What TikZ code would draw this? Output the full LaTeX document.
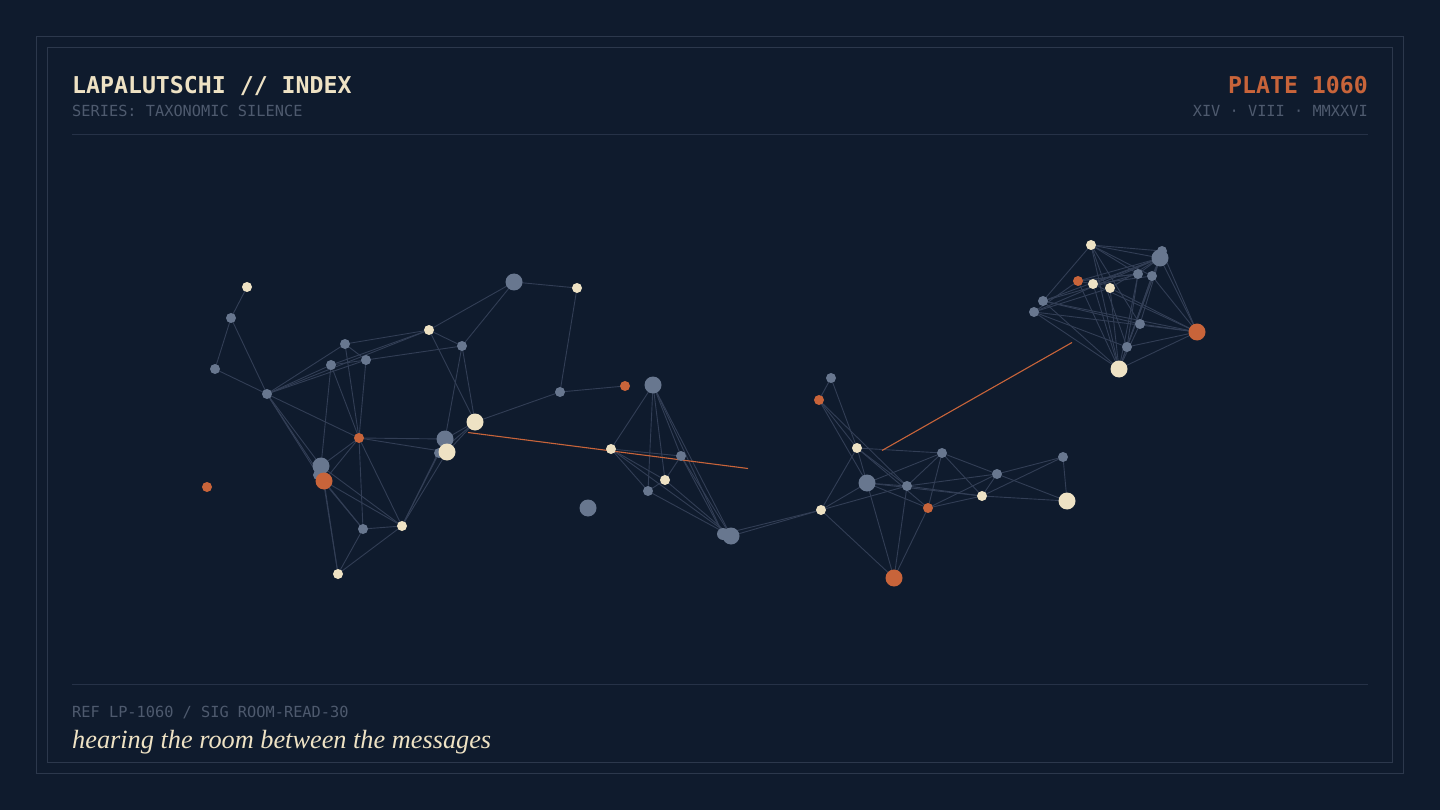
\documentclass[tikz,border=0pt]{standalone}
\usepackage{fontspec}
\setmonofont{DejaVu Sans Mono}
\newfontfamily\serifit{Liberation Serif}
\pgfdeclarelayer{back}
\pgfdeclarelayer{bg}
\pgfsetlayers{back,bg,main}
\definecolor{bgc}{HTML}{0F1B2D}
\definecolor{framec}{HTML}{2C384C}
\definecolor{rulec}{HTML}{263247}
\definecolor{edgec}{HTML}{323E55}
\definecolor{cream}{HTML}{EEE2C4}
\definecolor{slate}{HTML}{68778F}
\definecolor{rust}{HTML}{C8643A}
\definecolor{dim}{HTML}{4E5A6E}
\tikzset{
  dot/.style={circle, inner sep=0pt, draw=none},
  gs/.style={dot, fill=slate, minimum size=10pt},
  gb/.style={dot, fill=slate, minimum size=17pt},
  cs/.style={dot, fill=cream, minimum size=10pt},
  cb/.style={dot, fill=cream, minimum size=17pt},
  os/.style={dot, fill=rust, minimum size=10pt},
  ob/.style={dot, fill=rust, minimum size=17pt},
  edge/.style={draw=edgec, line width=0.9pt},
  hot/.style={draw=rust, line width=1.1pt},
  txt/.style={inner sep=0pt, anchor=base west},
  txtr/.style={inner sep=0pt, anchor=base east}
}
\begin{document}
\begin{tikzpicture}[x=1pt,y=-1pt]
\begin{pgfonlayer}{back}
\fill[bgc] (0,0) rectangle (1440,810);
\end{pgfonlayer}
\useasboundingbox (0,0) rectangle (1440,810);
\draw[framec, line width=1.8pt] (36.5,36.5) rectangle (1403.5,773.5);
\draw[framec, line width=1pt] (47.5,47.5) rectangle (1392.5,762.5);
\coordinate (hl) at (72,135); \coordinate (hr) at (1368,135);
\coordinate (fl) at (72,684); \coordinate (fr) at (1368,684);
\draw[rulec, line width=1pt] (hl) -- (hr);
\draw[rulec, line width=1pt] (fl) -- (fr);
% texts
\node[txt, text=cream, font=\ttfamily\bfseries\fontsize{23.2}{23}\selectfont] (title) at (72,94) {LAPALUTSCHI // INDEX};
\node[txt, text=dim, font=\ttfamily\fontsize{15.3}{15}\selectfont] (series) at (72,117) {SERIES: TAXONOMIC SILENCE};
\node[txtr, text=rust, font=\ttfamily\bfseries\fontsize{23.2}{23}\selectfont] (plate) at (1368,94) {PLATE 1060};
\node[txtr, text=dim, font=\ttfamily\fontsize{15.3}{15}\selectfont] (date) at (1368,117) {XIV · VIII · MMXXVI};
\node[txt, text=dim, font=\ttfamily\fontsize{15.3}{15}\selectfont] (ref) at (72,717) {REF LP-1060 / SIG ROOM-READ-30};
\node[txt, text=cream, font=\serifit\itshape\fontsize{26.3}{26}\selectfont] (motto) at (72,748) {hearing the room between the messages};
% cluster 1
\node[cs] (A) at (247,287) {};
\node[gs] (B) at (231,318) {};
\node[gs] (C) at (215,369) {};
\node[gs] (D) at (267,394) {};
\node[gs] (E) at (345,344) {};
\node[gs] (F) at (331,365) {};
\node[gs] (G) at (366,360) {};
\node[cs] (H) at (429,330) {};
\node[gs] (I) at (462,346) {};
\node[os] (K) at (359,438) {};
\node[gs] (L2) at (439,453) {};
\node[gb] (L) at (445,439) {};
\node[cb] (M) at (447,452) {};
\node[cb] (J) at (475,422) {};
\node[gb] (N) at (321,466) {};
\node[gs] (N2) at (318,475) {};
\node[ob] (O) at (324,481) {};
\node[os] (P) at (207,487) {};
\node[gs] (Q) at (363,529) {};
\node[cs] (R) at (402,526) {};
\node[cs] (S) at (338,574) {};
\node[gb] (T) at (514,282) {};
\node[cs] (U) at (577,288) {};
\node[gs] (V) at (560,392) {};
\node[os] (W) at (625,386) {};
% cluster 2
\node[gb] (X) at (653,385) {};
\node[cs] (Y) at (611,449) {};
\node[gs] (Z) at (681,456) {};
\node[cs] (AA) at (665,480) {};
\node[gs] (AB) at (648,491) {};
\node[gb] (AC) at (588,508) {};
\node[gs, minimum size=12pt] (AD2) at (723,534) {};
\node[gb] (AD) at (731,536) {};
% cluster 3
\node[gs] (BA) at (831,378) {};
\node[os] (BB) at (819,400) {};
\node[cs] (BC) at (857,448) {};
\node[gs] (BD) at (942,453) {};
\node[gb] (BE) at (867,483) {};
\node[gs] (BF) at (907,486) {};
\node[gs] (BG) at (997,474) {};
\node[gs] (BH) at (1063,457) {};
\node[cs] (BI) at (982,496) {};
\node[cb] (BJ) at (1067,501) {};
\node[os] (BK) at (928,508) {};
\node[cs] (BL) at (821,510) {};
\node[ob] (BM) at (894,578) {};
% cluster 4
\node[cs] (CA) at (1091,245) {};
\node[gs] (CB2) at (1162,251) {};
\node[gb] (CB) at (1160,258) {};
\node[gs] (CC) at (1138,274) {};
\node[gs] (CD) at (1152,276) {};
\node[os] (CE) at (1078,281) {};
\node[cs] (CF) at (1093,284) {};
\node[cs] (CG) at (1110,288) {};
\node[gs] (CH) at (1043,301) {};
\node[gs] (CI) at (1034,312) {};
\node[gs] (CJ) at (1140,324) {};
\node[ob] (CK) at (1197,332) {};
\node[gs] (CL) at (1127,347) {};
\node[cb] (CM) at (1119,369) {};
% free ends of the rust strokes
\coordinate (h1a) at (468,432.5);
\coordinate (h1b) at (748,468.5);
\coordinate (h2a) at (882,450.5);
\coordinate (h2b) at (1072,342.5);
\begin{pgfonlayer}{bg}
\foreach \a/\b in {A/B,B/C,B/D,C/D,D/E,D/F,D/G,D/H,D/K,D/N,D/O,D/N2,
  E/G,E/H,E/K,F/H,F/N,F/K,G/I,G/K,G/F,H/I,H/T,H/J,I/T,I/J,I/L,
  K/L,K/M,K/N,K/O,K/Q,K/R,L/J,M/J,L2/J,O/R,O/Q,N/R,N2/Q,L/R,M/R,L2/R,
  N/S,O/S,Q/R,Q/S,S/R,J/V,V/U,V/W,T/U,
  X/Y,X/AB,X/AA,X/Z,X/AD,X/AD2,Y/Z,Y/AA,Y/AB,Y/AD,Z/AA,Z/AD,Z/AD2,AA/AD,AB/AD,AB/AA,
  AD/BL,AD2/BL,
  BA/BB,BA/BC,BB/BC,BB/BE,BB/BF,BC/BD,BC/BF,BC/BK,BC/BL,BC/BE,
  BD/BE,BD/BF,BD/BK,BD/BG,BD/BI,BE/BF,BE/BL,BE/BM,BE/BI,BE/BK,
  BF/BM,BF/BG,BF/BL,BF/BI,BG/BH,BG/BK,BG/BI,BG/BJ,BH/BI,BH/BJ,BI/BJ,BI/BK,BK/BM,BL/BM,
  CA/CB,CA/CD,CA/CC,CA/CH,CA/CL,CA/CM,CA/CJ,CA/CB2,CB/CC,CB/CD,CB/CE,CB/CF,CB/CG,CB/CH,
  CB/CI,CB/CJ,CB/CK,CB/CL,CB/CM,CB2/CK,CC/CE,CC/CH,CC/CL,CC/CM,CD/CL,CD/CM,CD/CK,
  CE/CF,CE/CI,CE/CM,CF/CM,CF/CK,CG/CM,CG/CK,CG/CI,CH/CM,CH/CJ,CH/CK,CI/CM,CI/CL,
  CI/CK,CJ/CK,CJ/CM,CL/CK,CM/CK,CE/CC,CF/CD}
  \draw[edge] (\a.center) -- (\b.center);
\draw[hot] (h1a) -- (h1b);
\draw[hot] (h2a) -- (h2b);
\end{pgfonlayer}
\end{tikzpicture}
\end{document}
